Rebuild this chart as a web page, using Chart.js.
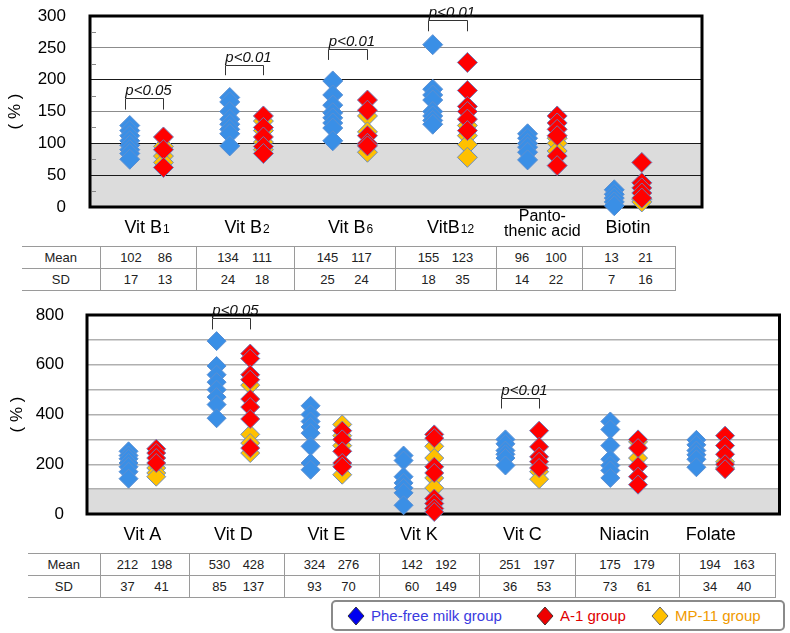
<!DOCTYPE html>
<html>
<head>
<meta charset="utf-8">
<script src="https://cdn.jsdelivr.net/npm/chart.js@4/dist/chart.umd.min.js"></script>
<style>
body{margin:0;background:#fff;width:790px;height:633px;position:relative;overflow:hidden;font-family:"Liberation Sans",Arial,sans-serif}
canvas{position:absolute;left:0}
#c1{top:0}
#c2{top:295px}
table{position:absolute;border-collapse:collapse;table-layout:fixed;font-family:"Liberation Sans Narrow","Liberation Sans",sans-serif;font-size:13px;color:#222}
td{border:1px solid #9a9a9a;height:21px;padding:0;text-align:center;white-space:nowrap}
td:first-child{border-left:none}
td span{display:inline-block;width:24px;text-align:center}
td span+span{margin-left:10px}
#legend{position:absolute;left:331px;top:600px;width:450px;height:27px;border:2px solid #8a8a8a;border-radius:5px;font-size:15px;line-height:27px;white-space:nowrap}
#legend .it{position:absolute;top:0}
#legend svg{position:absolute;top:4px}
#legend b{font-weight:normal;position:absolute;left:24px;top:0}
</style>
</head>
<body>
<canvas id="c1" width="790" height="240"></canvas>
<table id="t1"></table>
<canvas id="c2" width="790" height="250"></canvas>
<table id="t2"></table>
<div id="legend">
  <span class="it" style="left:14px"><svg width="18" height="20"><polygon points="9,1 17,10 9,19 1,10" fill="#0000f0" stroke="#334" stroke-width="1"/></svg><b style="color:#3a3ae0">Phe-free milk group</b></span>
  <span class="it" style="left:203px"><svg width="18" height="20"><polygon points="9,1 17,10 9,19 1,10" fill="#ee0000" stroke="#433" stroke-width="1"/></svg><b style="color:#e00000">A-1 group</b></span>
  <span class="it" style="left:318px"><svg width="18" height="20"><polygon points="9,1 17,10 9,19 1,10" fill="#ffc000" stroke="#666" stroke-width="1"/></svg><b style="color:#f09a00">MP-11 group</b></span>
</div>
<script>
// upper panel: water-soluble B vitamins
const topCats = ["Vit B1", "Vit B2", "Vit B6", "VitB12", "Panto-\nthenic acid", "Biotin"];
const topPhe = [[128,120,112,104,97,90,84,75],[172,165,150,138,130,122,115,96],[198,176,160,148,140,132,124,104],[255,185,176,168,150,143,136,130],[115,108,100,94,86,74],[27,20,14,8,2]];
const topA1 = [[110,90,62],[143,125,110,95,84],[168,152,112,100,96],[227,183,158,150,138,120],[143,132,122,112,80,65],[70,38,30,22,14]];
const topMP = [[95,80,70],[135,120,102,90],[143,118,98,86],[128,112,98,78],[108,100,88],[12,8]];
const topMean = [[102,86],[134,111],[145,117],[155,123],[96,100],[13,21]];
const topSD = [[17,13],[24,18],[25,24],[18,35],[14,22],[7,16]];
const topTicks = [0,50,100,150,200,250,300];

// lower panel
const botCats = ["Vit A", "Vit D", "Vit E", "Vit K", "Vit C", "Niacin", "Folate"];
const botPhe = [[252,235,222,205,190,170,142],[695,595,560,530,500,470,440,385],[435,400,372,350,325,272,205,178],[235,215,150,125,105,85,35],[300,282,255,240,225,195],[372,340,275,220,195,175,145],[298,278,255,238,220,188]];
const botA1 = [[262,245,225,205],[645,625,560,540,462,430,382,265],[335,300,252,205,190],[320,305,190,165,62,42,22,8],[335,270,230,210,185],[300,265,192,150,118],[315,275,240,200,180]];
const botMP = [[185,165,150],[518,320,285,245],[360,315,275,158],[272,225,145,105],[170,140],[290,225],[210,185]];
const botMean = [[212,198],[530,428],[324,276],[142,192],[251,197],[175,179],[194,163]];
const botSD = [[37,41],[85,137],[93,70],[60,149],[36,53],[73,61],[34,40]];
const botTicks = [0,200,400,600,800];

// significance brackets: category index, label, bracket top and leg end (in %)
const topSig = [[0,"p<0.05",171,153],[1,"p<0.01",223,207],[2,"p<0.01",248,231],[3,"p<0.01",293,276]];
const botSig = [[1,"p<0.05",786,742],[4,"p<0.01",466,424]];

// layout of the category columns on the x scale
const topPos = [0.555,1.535,2.55,3.53,4.435,5.275];
const topOff = [0.165,0.165,0.17,0.17,0.145,0.135];
const botPos = [0.56,1.48,2.42,3.355,4.40,5.43,6.305];
const botOff = [0.14,0.17,0.16,0.155,0.17,0.14,0.145];

function pts(groups, pos, off, side){
  let out = [];
  groups.forEach((vals,i) => vals.forEach(v => out.push({x: pos[i] + side*off[i], y: v})));
  return out;
}

function ds(data, fill, line, r){
  return {data: data, pointStyle: 'rectRot', pointRadius: r, backgroundColor: fill,
    borderColor: line, borderWidth: 1, showLine: false, clip: false};
}

function drawLabel(ctx, txt, x, y){
  ctx.fillStyle = '#000';
  if(txt.includes('\n')){
    ctx.font = '16px "Liberation Sans"';
    ctx.textAlign = 'center';
    let ls = txt.split('\n');
    ctx.fillText(ls[0], x, y - 12);
    ctx.fillText(ls[1], x, y + 3);
    return;
  }
  let m = txt.match(/^(.*?B)(\d+)$/);
  ctx.textAlign = 'left';
  if(m){
    ctx.font = '18px "Liberation Sans"';
    let w1 = ctx.measureText(m[1]).width;
    ctx.font = '12px "Liberation Sans"';
    let w2 = ctx.measureText(m[2]).width;
    let x0 = x - (w1 + w2)/2;
    ctx.font = '18px "Liberation Sans"';
    ctx.fillText(m[1], x0, y);
    ctx.font = '12px "Liberation Sans"';
    ctx.fillText(m[2], x0 + w1 + 1, y);
  } else {
    ctx.font = '18px "Liberation Sans"';
    ctx.textAlign = 'center';
    ctx.fillText(txt, x, y);
  }
}

function decor(cfg){
  return {
    id: 'decor',
    beforeDraw(chart){
      const {ctx, chartArea: a, scales: {y}} = chart;
      let yb = y.getPixelForValue(100);
      ctx.save();
      ctx.fillStyle = '#dcdcdc';
      ctx.fillRect(a.left, yb, a.right - a.left, a.bottom - yb);
      ctx.restore();
    },
    beforeDatasetsDraw(chart){
      const {ctx, chartArea: a, scales: {y}} = chart;
      ctx.save();
      if(cfg.minor){
        ctx.strokeStyle = '#888';
        ctx.lineWidth = 1;
        for(let v = cfg.minor; v < cfg.max; v += cfg.minor*2){
          let py = Math.round(y.getPixelForValue(v)) + 0.5;
          ctx.beginPath(); ctx.moveTo(a.left + 2, py); ctx.lineTo(a.left + 6, py); ctx.stroke();
        }
      }
      ctx.strokeStyle = '#000';
      ctx.lineWidth = 3;
      ctx.strokeRect(a.left, a.top, a.right - a.left, a.bottom - a.top);
      ctx.restore();
    },
    afterDraw(chart){
      const {ctx, chartArea: a, scales: {x, y}} = chart;
      ctx.save();
      // brackets
      cfg.sig.forEach(s => {
        let i = s[0];
        let xl = Math.round(x.getPixelForValue(cfg.pos[i] - cfg.off[i] - 0.05)) + 0.5;
        let xr = Math.round(x.getPixelForValue(cfg.pos[i] + cfg.off[i])) + 0.5;
        let yt = Math.round(y.getPixelForValue(s[2])) + 0.5;
        let yl = y.getPixelForValue(s[3]);
        ctx.strokeStyle = '#333';
        ctx.lineWidth = 1;
        ctx.beginPath();
        ctx.moveTo(xl, yl); ctx.lineTo(xl, yt); ctx.lineTo(xr, yt); ctx.lineTo(xr, yl);
        ctx.stroke();
        ctx.fillStyle = '#111';
        ctx.font = 'italic 15px "Liberation Sans"';
        ctx.textAlign = 'center';
        ctx.fillText(s[1], (xl + xr)/2 + 4, yt - 4);
      });
      // category labels
      cfg.cats.forEach((c, i) => drawLabel(ctx, c, x.getPixelForValue(cfg.pos[i]), cfg.labelY));
      // axis title
      ctx.translate(cfg.titleX, (a.top + a.bottom)/2);
      ctx.rotate(-Math.PI/2);
      ctx.font = '17px "Liberation Sans"';
      ctx.fillStyle = '#000';
      ctx.textAlign = 'center';
      ctx.textBaseline = 'middle';
      ctx.fillText('( % )', 0, 0);
      ctx.restore();
    }
  };
}

function makeChart(id, cfg){
  return new Chart(document.getElementById(id), {
    type: 'scatter',
    data: {datasets: [
      ds(pts(cfg.phe, cfg.pos, cfg.off, -1), '#3a8fe6', '#5b8fd2', cfg.r),
      ds(pts(cfg.a1, cfg.pos, cfg.off, 1), '#ff0000', '#6f78b5', cfg.r),
      ds(pts(cfg.mp, cfg.pos, cfg.off, 1), '#ffc000', '#6d8ec0', cfg.r)
    ]},
    options: {
      responsive: false, animation: false, events: [],
      layout: {padding: cfg.pad},
      plugins: {legend: {display: false}, tooltip: {enabled: false}},
      scales: {
        x: {type: 'linear', display: false, min: 0, max: cfg.cats.length},
        y: {
          min: 0, max: cfg.max,
          afterFit(s){ s.width = cfg.yw; s.paddingTop = 0; s.paddingBottom = 0; },
          border: {display: false},
          grid: {color: cfg.grid, lineWidth: cfg.gridW, drawTicks: false},
          ticks: {stepSize: cfg.step, padding: cfg.tpad, autoSkip: false, color: '#000',
            font: {family: 'Liberation Sans', size: 17},
            callback: v => cfg.ticks.includes(v) ? v : ''}
        }
      }
    },
    plugins: [decor(cfg)]
  });
}

makeChart('c1', {
  cats: topCats, phe: topPhe, a1: topA1, mp: topMP, sig: topSig, pos: topPos, off: topOff,
  ticks: topTicks, max: 300, step: 50, minor: 25, r: 10,
  pad: {left: 0, top: 16, right: 88, bottom: 33}, yw: 90, tpad: 24,
  grid: c => (c.tick.value === 150 || c.tick.value === 250) ? '#8c8c8c' : '#1a1a1a', gridW: 1,
  labelY: 233, titleX: 15
});

makeChart('c2', {
  cats: botCats, phe: botPhe, a1: botA1, mp: botMP, sig: botSig, pos: botPos, off: botOff,
  ticks: botTicks, max: 800, step: 100, minor: 0, r: 9.5,
  pad: {left: 0, top: 20, right: 4, bottom: 31}, yw: 87, tpad: 23,
  grid: '#b0b0b0', gridW: 1.5,
  labelY: 245, titleX: 17
});

function buildTable(id, left, top, widths, mean, sd){
  let t = document.getElementById(id);
  t.style.left = left + 'px';
  t.style.top = top + 'px';
  let html = '<colgroup>' + widths.map(w => '<col style="width:' + w + 'px">').join('') + '</colgroup>';
  [['Mean', mean], ['SD', sd]].forEach(r => {
    html += '<tr><td>' + r[0] + '</td>' + r[1].map(p => '<td><span>' + p[0] + '</span><span>' + p[1] + '</span></td>').join('') + '</tr>';
  });
  t.innerHTML = html;
}

buildTable('t1', 22, 246, [78,96,98,101,101,86,93], topMean, topSD);
buildTable('t2', 28, 553, [72,89,95,95,100,96,104,96], botMean, botSD);
</script>
</body>
</html>
